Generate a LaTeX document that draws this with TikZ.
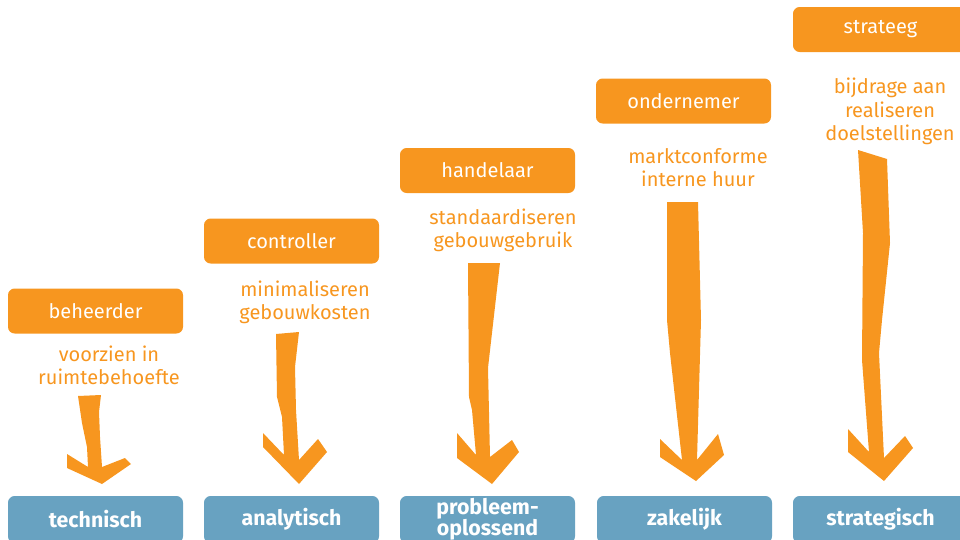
\documentclass[tikz,border=0pt]{standalone}
\usepackage{fontspec}
\setmainfont{Fira Sans}
\begin{document}
\begin{tikzpicture}[x=0.75pt,y=-0.75pt,
  role/.style={fill=roleorange,rounded corners=5pt,text=white,
    minimum width=131.25pt,minimum height=33.75pt,inner sep=0pt,
    font=\fontsize{15}{17}\selectfont},
  level/.style={fill=levelblue,rounded corners=5pt,text=white,
    minimum width=131.25pt,minimum height=35.25pt,inner sep=0pt,align=center,
    font=\fontsize{16}{16.5}\selectfont\bfseries},
  aim/.style={text=roleorange,align=center,inner sep=0pt,
    font=\fontsize{15}{17.5}\selectfont},
  bigarrow/.style={fill=roleorange,draw=none}]
\definecolor{roleorange}{HTML}{F7961F}
\definecolor{levelblue}{HTML}{68A2C1}
\useasboundingbox (0,0) rectangle (960,539);

% roles
\node[role] (r1) at (95.5,311) {beheerder};
\node[role] (r2) at (291.5,241) {controller};
\node[role] (r3) at (487.5,170.5) {handelaar};
\node[role] (r4) at (683.5,101) {ondernemer};
\node[role] (r5) at (880.5,29.5) {strateeg};

% aims
\node[aim] (d1) at (109,365) {voorzien in\\ruimtebehoefte};
\node[aim] (d2) at (305,302.5) {minimaliseren\\gebouwkosten};
\node[aim] (d3) at (503,230) {standaardiseren\\gebouwgebruik};
\node[aim] (d4) at (698,167.5) {marktconforme\\interne huur};
\node[aim] (d5) at (890,111.5) {bijdrage aan\\realiseren\\doelstellingen};

% levels
\node[level] (k1) at (95.5,519.5) {technisch};
\node[level] (k2) at (291.5,519.5) {analytisch};
\node[level] (k3) at (487.5,519.5) {probleem-\\[-1pt]oplossend};
\node[level] (k4) at (684.5,519.5) {zakelijk};
\node[level] (k5) at (880.5,519.5) {strategisch};

% hand-drawn arrows
\fill[bigarrow] (78,396) -- (101,395) -- (99,412) -- (100,437) -- (102,467)
  -- (125,458) -- (131,464) -- (102,484) -- (67,468) -- (67,454)
  -- (88,467) -- (87,447) -- (82,423) -- cycle;
\fill[bigarrow] (276,334) -- (299,332) -- (295,367) -- (296,410) -- (299,460)
  -- (318,439) -- (327,452) -- (299,484) -- (263,447) -- (263,433)
  -- (284,455) -- (282,417) -- (277,397) -- cycle;
\fill[bigarrow] (468,263) -- (500,263) -- (488,368) -- (490,457)
  -- (512,440) -- (519,452) -- (492,484) -- (457,458) -- (457,433)
  -- (476,455) -- (472,410) -- (469,397) -- cycle;
\fill[bigarrow] (667,202) -- (698,202) -- (701,320) -- (697,460)
  -- (718,434) -- (724,455) -- (696,481) -- (660,457) -- (660,439)
  -- (682,460) -- (670,353) -- (667,320) -- cycle;
\fill[bigarrow] (858,150) -- (887,159) -- (890,243) -- (882,320) -- (879,353)
  -- (884,458) -- (905,436) -- (913,448) -- (884,481) -- (848,452)
  -- (848,429) -- (869,452) -- (862,360) -- (863,233) -- cycle;
\end{tikzpicture}
\end{document}
